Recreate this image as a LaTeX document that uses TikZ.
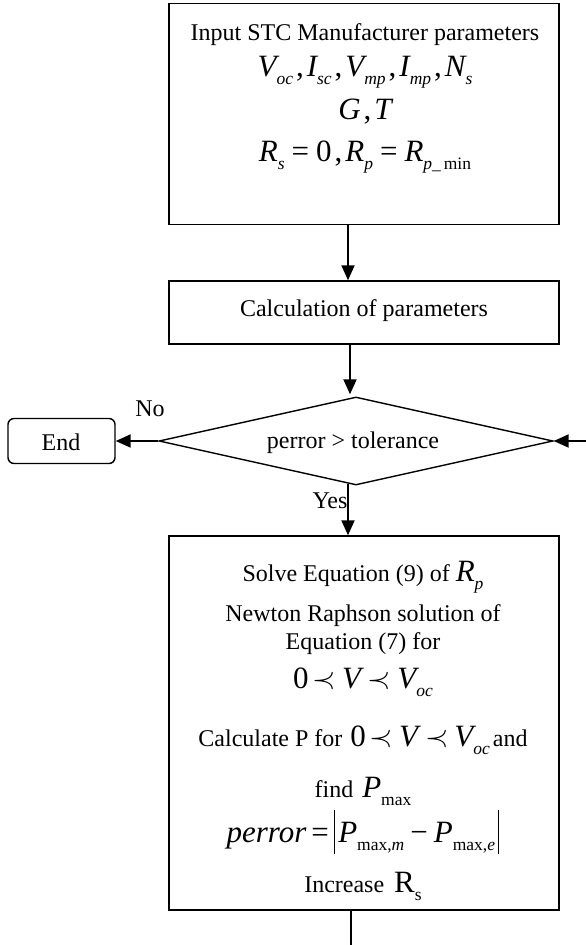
\RequirePackage{fix-cm}
\documentclass[tikz,border=0pt]{standalone}
\usepackage{fontspec}
\setmainfont{Liberation Serif}
\usetikzlibrary{shapes.geometric,arrows.meta}
\newcommand\mI[1]{{\fontsize{31}{33}\selectfont\itshape #1}}
\newcommand\mR[1]{{\fontsize{31}{33}\selectfont #1}}
\newcommand\sI[1]{\raisebox{-8pt}{\fontsize{17.5}{19}\selectfont\itshape #1}}
\newcommand\sR[1]{\raisebox{-8pt}{\fontsize{17.5}{19}\selectfont #1}}
\newcommand\pr{\hspace{4pt}{\fontsize{30}{32}\selectfont$\prec$}\hspace{6pt}}
\newcommand\cm{\hspace{3pt}\mR{,}\hspace{3pt}}
\newcommand\eq{\hspace{7pt}\mR{=}\hspace{7pt}}
\begin{document}
\begin{tikzpicture}[x=1pt,y=-1pt,font=\fontsize{24}{28}\selectfont,
  box/.style={draw,line width=1.4pt,inner sep=0pt},
  arr/.style={line width=1.9pt,-{Triangle[length=15pt,width=13pt]}},
  ln/.style={line width=1.6pt},
  txt/.style={inner sep=0pt,anchor=base}]
\useasboundingbox (0,0) rectangle (586,945);
% boxes
\node[box,minimum width=390pt,minimum height=221pt] (inp) at (364,114) {};
\node[box,minimum width=390pt,minimum height=63pt] (calc) at (364,312.5) {};
\node[draw,diamond,line width=1.4pt,minimum width=394pt,minimum height=88pt,inner sep=0pt] (dec) at (356,441) {};
\node[draw,rounded corners=6pt,line width=1.4pt,minimum width=107pt,minimum height=45pt] (endn) at (61.5,441) {};
\node[box,minimum width=390pt,minimum height=374pt] (proc) at (364,723) {};
% texts
\node[txt] (t1) at (365,40) {Input STC Manufacturer parameters};
\node[txt] (t2) at (365,76) {\mI{V}\sI{oc}\cm\mI{I}\sI{sc}\cm\mI{V}\sI{mp}\cm\mI{I}\sI{mp}\cm\mI{N}\sI{s}};
\node[txt] (t3) at (365,119) {\mI{G}\cm\mI{T}};
\node[txt] (t4) at (365,161) {\mI{R}\sI{s}\eq\mR{0}\cm\mI{R}\sI{p}\eq\mI{R}\sI{p}\sR{\_\,min}};
\node[txt] (c1) at (364,316) {Calculation of parameters};
\node[txt] (d1) at (353,448) {perror > tolerance};
\node[txt] (e1) at (61,450) {End};
\node[txt] (no) at (150,416) {No};
\node[txt] (yes) at (330,508) {Yes};
\node[txt] (p1) at (363,581) {Solve Equation (9) of \mI{R}\sI{p}};
\node[txt] (p2) at (363,621) {Newton Raphson solution of};
\node[txt] (p3) at (363,649) {Equation (7) for};
\node[txt] (p4) at (363,688) {\mR{0}\pr\mI{V\/}\pr\mI{V}\sI{oc}};
\node[txt] (p5) at (363,746) {Calculate P for \hspace{2pt}\mR{0}\pr\mI{V\/}\pr\mI{V}\sI{oc}\hspace{3pt}and};
\node[txt] (p6) at (363,797) {find \hspace{3pt}\mI{P}\sR{max}};
\node[txt] (p7) at (363,842) {\mI{perror}\hspace{5pt}\mR{=}\hspace{5pt}\rule[-12pt]{1.3pt}{44pt}\hspace{3pt}\mI{P}\sR{max,\textit{m}}\hspace{6pt}\mR{−}\hspace{6pt}\mI{P}\sR{max,\textit{e}}\hspace{3pt}\rule[-12pt]{1.3pt}{44pt}};
\node[txt] (p8) at (363,892) {Increase \hspace{4pt}\mR{R}\sR{s}};
% connectors
\draw[arr] ([xshift=-16pt]inp.south) -- ([xshift=-16pt]calc.north);
\draw[arr] ([xshift=-14pt]calc.south) -- ([xshift=-6pt,yshift=2pt]dec.north);
\draw[arr] (dec.west) -- (endn.east);
\coordinate (rin) at (586,441);
\draw[arr] (rin) -- (dec.east);
\draw[arr] ([xshift=-8pt,yshift=2pt]dec.south) -- ([xshift=-16pt]proc.north);
\coordinate (bot) at (351,945);
\draw[ln] (proc.south -| bot) -- (bot);
\end{tikzpicture}
\end{document}
